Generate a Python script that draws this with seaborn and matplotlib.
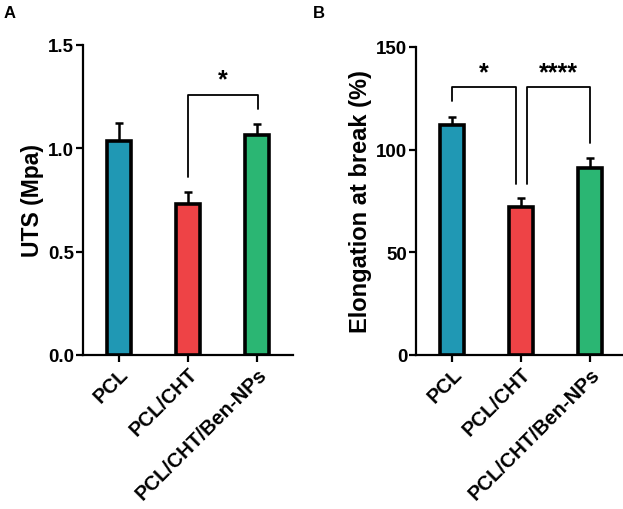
import numpy as np
import matplotlib
matplotlib.use("Agg")
import matplotlib.pyplot as plt
import matplotlib.transforms as mtransforms
import seaborn as sns

# data
groups = ["PCL", "PCL/CHT", "PCL/CHT/Ben-NPs"]
colors = ["#2098B4", "#EE4346", "#2BB673"]

uts_mean = [1.035, 0.73, 1.065]
uts_err = [0.085, 0.06, 0.05]

elong_mean = [111.9, 71.9, 91.0]
elong_err = [4.2, 4.3, 4.9]

# significance brackets: (left group, right group, top, left leg end, right leg end, label)
uts_brackets = [(1, 2.02, 1.258, 0.86, 1.19, "*")]
elong_brackets = [(0, 0.93, 130.7, 123.8, 83.2, "*"),
                  (1.08, 2, 130.7, 83.2, 103.2, "****")]

sns.set_style("ticks")
plt.rcParams["font.family"] = ["Liberation Sans", "DejaVu Sans"]
plt.rcParams["font.weight"] = "bold"
for k in ["text.color", "axes.labelcolor", "xtick.color", "ytick.color", "axes.edgecolor"]:
    plt.rcParams[k] = "black"

fig = plt.figure(figsize=(6.23, 5.10), dpi=100)
axA = fig.add_axes([0.133, 0.302, 0.337, 0.608])
axB = fig.add_axes([0.668, 0.302, 0.337, 0.604])


def draw_panel(ax, means, errs, ylabel, ylsize, ylim, yticks, ticklabels, brackets, star_y):
    sns.barplot(x=groups, y=means, hue=groups, palette=colors, width=0.34,
                saturation=1, edgecolor="black", linewidth=2.6, legend=False,
                ax=ax, zorder=3)
    ax.errorbar(range(len(groups)), means, yerr=[np.zeros(len(errs)), errs],
                fmt="none", ecolor="black", elinewidth=1.8, capsize=3.2,
                capthick=1.8, zorder=2)
    for x1, x2, top, l1, l2, label in brackets:
        ax.plot([x1, x1, x2, x2], [l1, top, top, l2], color="black", lw=1.3,
                clip_on=False, zorder=4)
        ax.text((x1 + x2) / 2, star_y, label, ha="center", va="center",
                fontsize=18, fontweight="bold")
    ax.set_xlim(-0.52, 2.52)
    ax.set_ylim(*ylim)
    ax.set_yticks(yticks)
    ax.set_yticklabels(ticklabels, fontsize=13.5, fontweight="bold")
    ax.set_xticks(range(len(groups)))
    ax.set_xticklabels(groups, rotation=45, ha="right", rotation_mode="anchor",
                       fontsize=14.5, fontweight="bold")
    shift = mtransforms.ScaledTranslation(1 / 100, -8 / 100, fig.dpi_scale_trans)
    for lab in ax.get_xticklabels():
        lab.set_transform(lab.get_transform() + shift)
    ax.set_ylabel(ylabel, fontsize=ylsize, fontweight="bold", labelpad=3)
    ax.set_xlabel("")
    for s in ["left", "bottom"]:
        ax.spines[s].set_linewidth(1.6)
    sns.despine(ax=ax)
    ax.tick_params(axis="both", width=1.6, length=5, direction="out", pad=1.5)


draw_panel(axA, uts_mean, uts_err, "UTS (Mpa)", 16.5, (0, 1.5),
           [0, 0.5, 1.0, 1.5], ["0.0", "0.5", "1.0", "1.5"], uts_brackets, 1.335)
draw_panel(axB, elong_mean, elong_err, "Elongation at break (%)", 17, (0, 150),
           [0, 50, 100, 150], ["0", "50", "100", "150"], elong_brackets, 137.5)

fig.text(0.006, 0.973, "A", fontsize=12, fontweight="bold", va="center")
fig.text(0.503, 0.973, "B", fontsize=12, fontweight="bold", va="center")

fig.savefig("out.png", dpi=100)
